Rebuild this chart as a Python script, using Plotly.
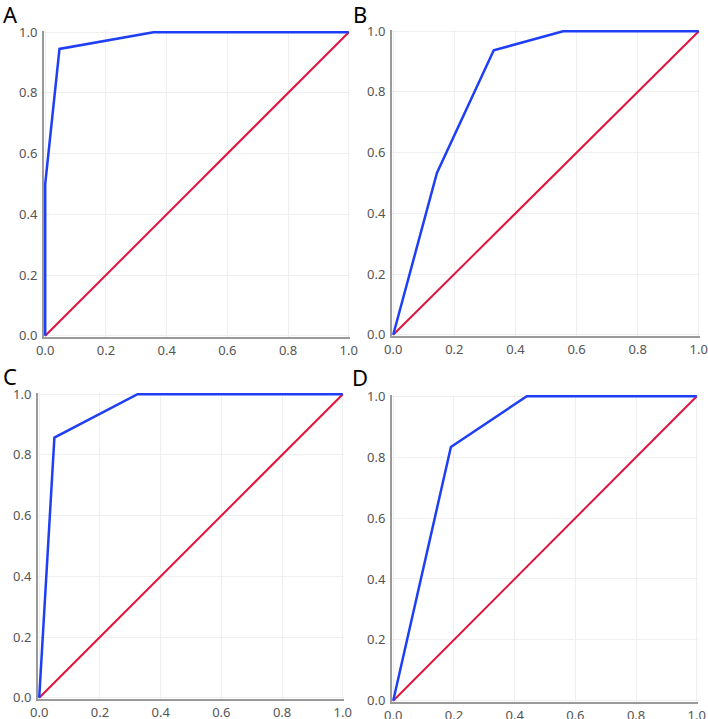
import plotly.graph_objects as go

# ROC curve data (False positive rate, True positive rate)
a_fpr = [0.0, 0.0, 0.047, 0.357, 1.0]
a_tpr = [0.0, 0.5, 0.945, 1.0, 1.0]
b_fpr = [0.0, 0.143, 0.329, 0.556, 1.0]
b_tpr = [0.0, 0.533, 0.937, 1.0, 1.0]
c_fpr = [0.0, 0.05, 0.324, 1.0]
c_tpr = [0.0, 0.857, 1.0, 1.0]
d_fpr = [0.0, 0.19, 0.44, 1.0]
d_tpr = [0.0, 0.833, 1.0, 1.0]
ref_line = [0.0, 1.0]
panel_labels = ["A", "B", "C", "D"]
tick_vals = [0.0, 0.2, 0.4, 0.6, 0.8, 1.0]
tick_text = ["0.0", "0.2", "0.4", "0.6", "0.8", "1.0"]

W, H = 708, 719
# pixel boxes: (left, right, top, bottom)
boxes = [(44, 350, 31, 337), (392, 700, 30, 336), (38, 344, 393, 699), (392, 698, 395, 702)]
label_pos = [(1, 14), (351, 14), (1, 376), (350, 377)]
curves = [(a_fpr, a_tpr), (b_fpr, b_tpr), (c_fpr, c_tpr), (d_fpr, d_tpr)]

fig = go.Figure()
layout = dict(width=W, height=H, margin=dict(l=0, r=0, t=0, b=0, autoexpand=False),
              paper_bgcolor="white", plot_bgcolor="white", showlegend=False)
pad = 0.004
annotations = []
for i, ((l, r, t, b), (fx, ty)) in enumerate(zip(boxes, curves)):
    n = "" if i == 0 else str(i + 1)
    xa, ya = "x" + n, "y" + n
    axis_common = dict(range=[-pad, 1 + pad], tickvals=tick_vals, ticktext=tick_text,
                       showgrid=True, gridcolor="#efefef", gridwidth=1,
                       showline=True, linecolor="#9a9a9a", linewidth=2,
                       zeroline=False, ticks="", fixedrange=True, automargin=False,
                       tickfont=dict(family="Noto Sans", size=13, color="#555555"))
    layout["xaxis" + n] = dict(axis_common, domain=[l / W, r / W], anchor=ya)
    layout["yaxis" + n] = dict(axis_common, domain=[1 - b / H, 1 - t / H], anchor=xa,
                               ticklabelstandoff=2)
    fig.add_trace(go.Scatter(x=ref_line, y=ref_line, mode="lines",
                             line=dict(color="#e0143c", width=2), xaxis=xa, yaxis=ya))
    fig.add_trace(go.Scatter(x=fx, y=ty, mode="lines",
                             line=dict(color="#1f3ff5", width=2.5), xaxis=xa, yaxis=ya))
    lx, ly = label_pos[i]
    annotations.append(dict(text=panel_labels[i], x=lx / W, y=1 - ly / H, xref="paper", yref="paper",
                            xanchor="left", yanchor="middle", showarrow=False,
                            font=dict(family="Noto Sans", size=22, color="black")))
layout["annotations"] = annotations
fig.update_layout(**layout)
fig.write_html("out.html", config={"displayModeBar": False},
               post_script="document.body.style.margin='0';document.body.style.overflow='hidden';")
